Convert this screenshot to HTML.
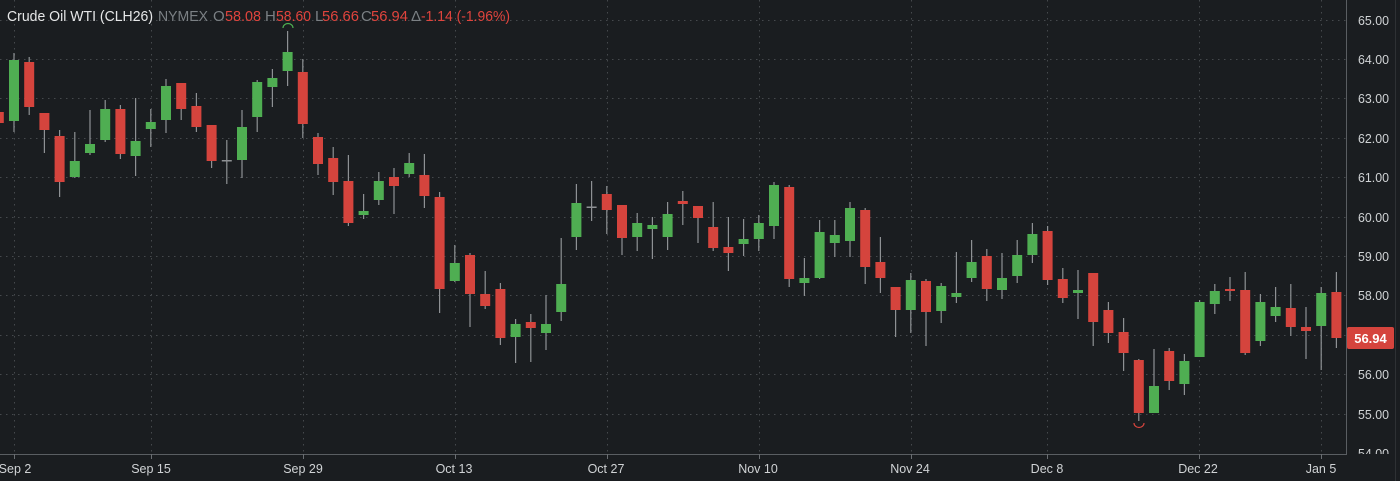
<!DOCTYPE html>
<html><head><meta charset="utf-8"><style>
html,body{margin:0;padding:0;background:#1a1d20;}
svg{display:block;}
text{font-family:"Liberation Sans",sans-serif;}
</style></head><body>
<svg width="1400" height="481" viewBox="0 0 1400 481" xmlns="http://www.w3.org/2000/svg">
<rect width="1400" height="481" fill="#1a1d20"/>
<path stroke="#45494d" stroke-width="1" stroke-dasharray="1.5 4.5" fill="none" d="M0 20.5H1346M0 59.5H1346M0 98.5H1346M0 138.5H1346M0 177.5H1346M0 217.5H1346M0 256.5H1346M0 295.5H1346M0 335.5H1346M0 374.5H1346M0 414.5H1346M14.5 0V454M151.5 0V454M303.5 0V454M455.5 0V454M607.5 0V454M759.5 0V454M911.5 0V454M1047.5 0V454M1199.5 0V454M1321.5 0V454"/>
<path stroke="#5a5e62" stroke-width="1" fill="none" d="M0 454.5H1347M1346.5 0V455"/>
<path stroke="#2e3134" stroke-width="1" fill="none" d="M1395.5 0V481"/>
<path stroke="#6a6e72" stroke-width="1" fill="none" d="M14.5 454v5M151.5 454v5M303.5 454v5M455.5 454v5M607.5 454v5M759.5 454v5M911.5 454v5M1047.5 454v5M1199.5 454v5M1321.5 454v5"/>
<path stroke="#8e9194" stroke-width="1.2" fill="none" d="M-1.2 105V130M14 53V132M29.2 57V115M44.4 113V153M59.6 130V197M74.8 132V178M90 110V155M105.2 100V142M120.4 105V159M135.6 98V176M150.8 109V147M166 79V133M181.2 83V120M196.4 93V132M211.6 125V168M226.8 140V184M242 110V178M257.2 80V132M272.4 69V107M287.6 31V86M302.8 59V138M318 133V175M333.2 147V195M348.4 155V226M363.6 194V219M378.8 172V205M394 168V214M409.2 153V177M424.4 154V208M439.6 192V313M454.8 245V282M470 253V327M485.2 271V309M500.4 283V345M515.6 319V363M530.8 314V362M546 295V350M561.2 238V321M576.4 184V250M591.6 181V221M606.8 186V234M622 205V255M637.2 213V251M652.4 217V259M667.6 202V250M682.8 191V225M698 206V243M713.2 202V251M728.4 217V271M743.6 219V256M758.8 215V251M774 182V239M789.2 185V287M804.4 258V296M819.6 220V279M834.8 220V257M850 202V257M865.2 208V284M880.4 237V293M895.6 287V337M910.8 273V333M926 279V346M941.2 283V323M956.4 252V303M971.6 240V282M986.8 249V301M1002 253V299M1017.2 240V283M1032.4 223V263M1047.6 226V285M1062.8 268V303M1078 270V319M1093.2 273V346M1108.4 302V343M1123.6 318V371M1138.8 359V421M1154 349V413M1169.2 348V390M1184.4 354V395M1199.6 300V357M1214.8 284V314M1230 277V301M1245.2 272V355M1260.4 294V346M1275.6 287V322M1290.8 284V336M1306 307V359M1321.2 287V370M1336.4 272V348"/>
<path fill="#4fae52" d="M9 60h10v61h-10zM69.8 161h10v16h-10zM85 144h10v9h-10zM100.2 109h10v31h-10zM130.6 141h10v15h-10zM145.8 122h10v7h-10zM161 86h10v34h-10zM237 127h10v33h-10zM252.2 82h10v35h-10zM267.4 78h10v9h-10zM282.6 52h10v19h-10zM358.6 211h10v4h-10zM373.8 181h10v19h-10zM404.2 163h10v11h-10zM449.8 263h10v18h-10zM510.6 324h10v13h-10zM541 324h10v9h-10zM556.2 284h10v28h-10zM571.4 203h10v34h-10zM632.2 223h10v14h-10zM647.4 225h10v4h-10zM662.6 214h10v23h-10zM738.6 239h10v5h-10zM753.8 223h10v16h-10zM769 185h10v41h-10zM799.4 278h10v5h-10zM814.6 232h10v46h-10zM829.8 235h10v8h-10zM845 208h10v33h-10zM905.8 280h10v30h-10zM936.2 286h10v25h-10zM951.4 293h10v4h-10zM966.6 262h10v16h-10zM997 278h10v12h-10zM1012.2 255h10v21h-10zM1027.4 234h10v21h-10zM1073 290h10v3h-10zM1149 386h10v27h-10zM1179.4 361h10v23h-10zM1194.6 302h10v55h-10zM1209.8 291h10v13h-10zM1255.4 302h10v39h-10zM1270.6 307h10v9h-10zM1316.2 293h10v33h-10z"/>
<path fill="#d5443d" d="M-6.2 112h10v11h-10zM24.2 62h10v45h-10zM39.4 113h10v17h-10zM54.6 136h10v46h-10zM115.4 109h10v45h-10zM176.2 83h10v26h-10zM191.4 106h10v21h-10zM206.6 125h10v36h-10zM297.8 72h10v52h-10zM313 137h10v27h-10zM328.2 158h10v24h-10zM343.4 181h10v42h-10zM389 177h10v9h-10zM419.4 175h10v21h-10zM434.6 197h10v92h-10zM465 255h10v39h-10zM480.2 294h10v12h-10zM495.4 289h10v49h-10zM525.8 322h10v6h-10zM601.8 194h10v16h-10zM617 205h10v33h-10zM677.8 201h10v3h-10zM693 206h10v12h-10zM708.2 227h10v21h-10zM723.4 247h10v6h-10zM784.2 187h10v92h-10zM860.2 210h10v57h-10zM875.4 262h10v16h-10zM890.6 287h10v23h-10zM921 281h10v31h-10zM981.8 256h10v33h-10zM1042.6 231h10v49h-10zM1057.8 279h10v19h-10zM1088.2 273h10v49h-10zM1103.4 310h10v23h-10zM1118.6 332h10v21h-10zM1133.8 360h10v53h-10zM1164.2 351h10v30h-10zM1225 289h10v2h-10zM1240.2 290h10v63h-10zM1285.8 308h10v19h-10zM1301 327h10v4h-10zM1331.4 292h10v46h-10z"/>
<path fill="#8e9194" d="M221.8 160h10v1.5h-10zM586.6 206.5h10v1.5h-10z"/>
<path d="M283,28 A5,4.5 0 0 1 293,28" fill="none" stroke="#4fae52" stroke-width="1.2"/>
<path d="M1134,423 A5,4.5 0 0 0 1144,423" fill="none" stroke="#d5443d" stroke-width="1.2"/>
<g font-size="15">
<text x="7" y="21" fill="#e6e7e8" textLength="146" lengthAdjust="spacingAndGlyphs">Crude Oil WTI (CLH26)</text>
<text x="158" y="21" fill="#7b8084" textLength="50" lengthAdjust="spacingAndGlyphs">NYMEX</text>
<text x="213" y="21" fill="#7b8084">O</text>
<text x="225" y="21" fill="#e0443d" textLength="36" lengthAdjust="spacingAndGlyphs">58.08</text>
<text x="265" y="21" fill="#7b8084">H</text>
<text x="276" y="21" fill="#e0443d" textLength="35" lengthAdjust="spacingAndGlyphs">58.60</text>
<text x="315" y="21" fill="#7b8084">L</text>
<text x="322" y="21" fill="#e0443d" textLength="37" lengthAdjust="spacingAndGlyphs">56.66</text>
<text x="361" y="21" fill="#7b8084">C</text>
<text x="371" y="21" fill="#e0443d" textLength="37" lengthAdjust="spacingAndGlyphs">56.94</text>
<text x="411" y="21" fill="#7b8084">Δ</text>
<text x="421" y="21" fill="#e0443d" textLength="89" lengthAdjust="spacingAndGlyphs">-1.14 (-1.96%)</text>
</g>
<g font-size="12.5" fill="#d0d3d5">
<text x="1358" y="25" textLength="31" lengthAdjust="spacingAndGlyphs">65.00</text>
<text x="1358" y="64" textLength="31" lengthAdjust="spacingAndGlyphs">64.00</text>
<text x="1358" y="103" textLength="31" lengthAdjust="spacingAndGlyphs">63.00</text>
<text x="1358" y="143" textLength="31" lengthAdjust="spacingAndGlyphs">62.00</text>
<text x="1358" y="182" textLength="31" lengthAdjust="spacingAndGlyphs">61.00</text>
<text x="1358" y="222" textLength="31" lengthAdjust="spacingAndGlyphs">60.00</text>
<text x="1358" y="261" textLength="31" lengthAdjust="spacingAndGlyphs">59.00</text>
<text x="1358" y="300" textLength="31" lengthAdjust="spacingAndGlyphs">58.00</text>
<text x="1358" y="379" textLength="31" lengthAdjust="spacingAndGlyphs">56.00</text>
<text x="1358" y="419" textLength="31" lengthAdjust="spacingAndGlyphs">55.00</text>
</g>
<svg x="1350" y="440" width="46" height="14" overflow="hidden">
<text x="8" y="18" font-size="12.5" fill="#d0d3d5" textLength="31" lengthAdjust="spacingAndGlyphs">54.00</text>
</svg>
<rect x="1347" y="327" width="47" height="22" rx="2" fill="#d5443d"/>
<text x="1370.5" y="343" font-size="13" font-weight="bold" fill="#ffffff" text-anchor="middle">56.94</text>
<g font-size="12.5" fill="#d0d3d5" text-anchor="middle">
<text x="15" y="473">Sep 2</text>
<text x="151" y="473">Sep 15</text>
<text x="303" y="473">Sep 29</text>
<text x="454" y="473">Oct 13</text>
<text x="606" y="473">Oct 27</text>
<text x="758" y="473">Nov 10</text>
<text x="910" y="473">Nov 24</text>
<text x="1047" y="473">Dec 8</text>
<text x="1198" y="473">Dec 22</text>
<text x="1321" y="473">Jan 5</text>
</g>
</svg>
</body></html>
